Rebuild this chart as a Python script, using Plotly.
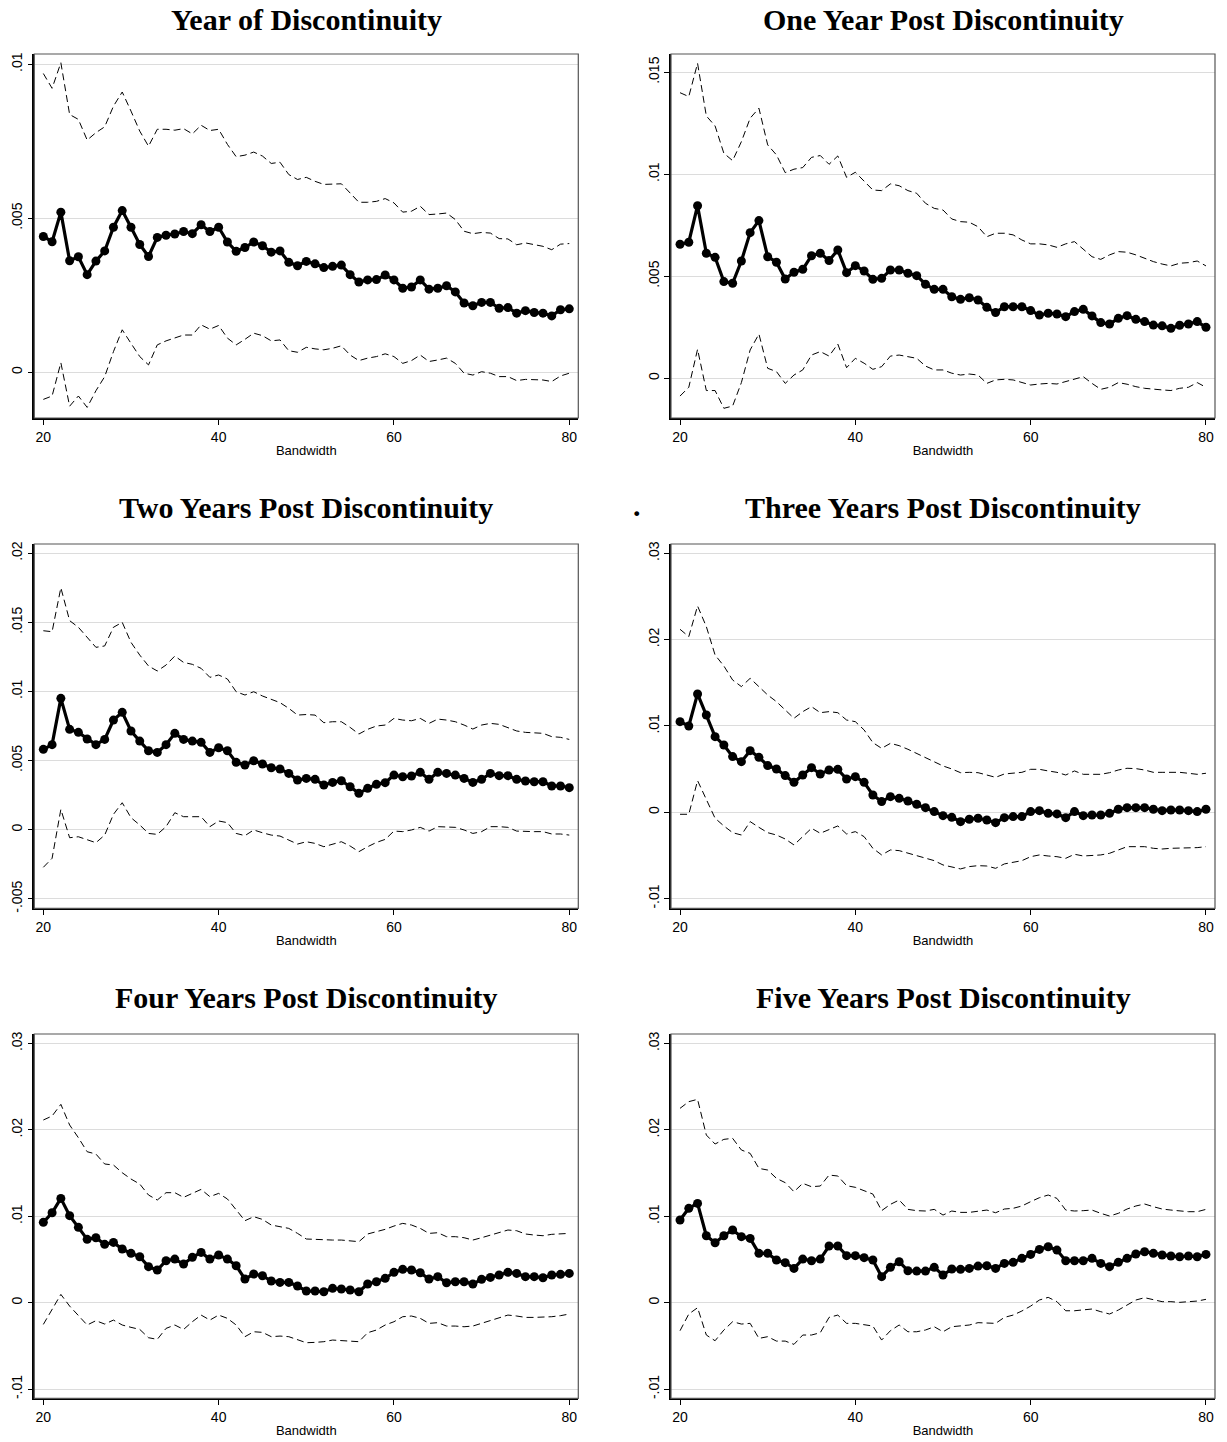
import plotly.graph_objects as go

bandwidth = list(range(20, 81))

titles = ["Year of Discontinuity", "One Year Post Discontinuity",
          "Two Years Post Discontinuity", "Three Years Post Discontinuity",
          "Four Years Post Discontinuity", "Five Years Post Discontinuity"]

# ---- Year of Discontinuity
est_0 = [0.00441,0.00424,0.00520,0.00362,0.00375,0.00317,0.00361,0.00394,0.00471,0.00525,
         0.00471,0.00415,0.00376,0.00438,0.00445,0.00449,0.00457,0.00450,0.00479,0.00457,
         0.00471,0.00423,0.00393,0.00405,0.00423,0.00411,0.00390,0.00394,0.00357,0.00346,
         0.00360,0.00352,0.00340,0.00344,0.00348,0.00317,0.00293,0.00300,0.00301,0.00316,
         0.00300,0.00273,0.00277,0.00300,0.00270,0.00273,0.00281,0.00261,0.00225,0.00216,
         0.00227,0.00227,0.00208,0.00210,0.00192,0.00200,0.00194,0.00192,0.00183,0.00203,
         0.00206]
hi_0 = [0.00970,0.00922,0.01005,0.00837,0.00821,0.00754,0.00778,0.00797,0.00864,0.00910,
        0.00848,0.00783,0.00734,0.00789,0.00789,0.00786,0.00791,0.00774,0.00802,0.00785,
        0.00789,0.00740,0.00700,0.00705,0.00715,0.00702,0.00678,0.00682,0.00642,0.00626,
        0.00633,0.00620,0.00610,0.00610,0.00612,0.00582,0.00552,0.00552,0.00555,0.00564,
        0.00550,0.00520,0.00523,0.00539,0.00512,0.00514,0.00517,0.00496,0.00458,0.00450,
        0.00454,0.00452,0.00434,0.00433,0.00414,0.00420,0.00414,0.00409,0.00398,0.00416,
        0.00418]
lo_0 = [-0.00088,-0.00077,0.00031,-0.00110,-0.00077,-0.00114,-0.00060,-0.00014,0.00067,0.00138,
        0.00094,0.00051,0.00024,0.00089,0.00102,0.00111,0.00121,0.00121,0.00154,0.00140,
        0.00152,0.00111,0.00089,0.00107,0.00127,0.00119,0.00102,0.00105,0.00070,0.00065,
        0.00081,0.00076,0.00073,0.00078,0.00086,0.00056,0.00038,0.00046,0.00051,0.00060,
        0.00051,0.00029,0.00038,0.00056,0.00035,0.00040,0.00046,0.00029,-0.00003,-0.00009,
        0.00002,-0.00003,-0.00014,-0.00014,-0.00027,-0.00023,-0.00025,-0.00025,-0.00030,-0.00012,
        -0.00003]

# ---- One Year Post
est_1 = [0.00657,0.00667,0.00846,0.00613,0.00593,0.00474,0.00466,0.00575,0.00714,0.00773,
         0.00596,0.00569,0.00487,0.00520,0.00534,0.00601,0.00613,0.00577,0.00629,0.00518,
         0.00552,0.00526,0.00485,0.00490,0.00531,0.00531,0.00515,0.00503,0.00461,0.00436,
         0.00436,0.00400,0.00387,0.00395,0.00384,0.00348,0.00322,0.00351,0.00351,0.00351,
         0.00332,0.00310,0.00319,0.00315,0.00302,0.00327,0.00338,0.00306,0.00273,0.00266,
         0.00294,0.00307,0.00289,0.00278,0.00261,0.00257,0.00245,0.00260,0.00266,0.00278,
         0.00250]
hi_1 = [0.01400,0.01381,0.01544,0.01286,0.01237,0.01103,0.01067,0.01160,0.01275,0.01324,
        0.01144,0.01095,0.01008,0.01025,0.01033,0.01083,0.01092,0.01049,0.01090,0.00985,
        0.01010,0.00964,0.00923,0.00920,0.00953,0.00944,0.00920,0.00907,0.00858,0.00833,
        0.00825,0.00781,0.00768,0.00765,0.00743,0.00694,0.00711,0.00711,0.00703,0.00678,
        0.00659,0.00659,0.00654,0.00642,0.00659,0.00670,0.00632,0.00596,0.00583,0.00605,
        0.00621,0.00618,0.00605,0.00587,0.00572,0.00560,0.00551,0.00564,0.00567,0.00575,
        0.00551]
lo_1 = [-0.00087,-0.00044,0.00142,-0.00060,-0.00060,-0.00147,-0.00136,-0.00021,0.00139,0.00217,
        0.00049,0.00033,-0.00025,0.00016,0.00041,0.00114,0.00131,0.00109,0.00168,0.00052,
        0.00098,0.00074,0.00044,0.00057,0.00109,0.00114,0.00106,0.00098,0.00060,0.00041,
        0.00041,0.00025,0.00016,0.00021,0.00016,-0.00025,-0.00008,-0.00005,-0.00008,-0.00021,
        -0.00033,-0.00028,-0.00025,-0.00028,-0.00016,-0.00005,0.00008,-0.00025,-0.00054,-0.00044,
        -0.00021,-0.00029,-0.00041,-0.00049,-0.00054,-0.00057,-0.00060,-0.00049,-0.00044,-0.00021,
        -0.00044]

# ---- Two Years Post
est_2 = [0.00581,0.00615,0.00950,0.00726,0.00704,0.00656,0.00615,0.00653,0.00793,0.00849,
         0.00714,0.00641,0.00571,0.00559,0.00615,0.00697,0.00653,0.00641,0.00632,0.00559,
         0.00593,0.00571,0.00487,0.00468,0.00499,0.00475,0.00448,0.00439,0.00407,0.00359,
         0.00371,0.00364,0.00323,0.00342,0.00354,0.00311,0.00263,0.00299,0.00328,0.00340,
         0.00395,0.00383,0.00388,0.00415,0.00364,0.00415,0.00407,0.00395,0.00371,0.00342,
         0.00364,0.00407,0.00391,0.00391,0.00364,0.00352,0.00347,0.00347,0.00316,0.00316,
         0.00304]
hi_2 = [0.01439,0.01432,0.01750,0.01512,0.01464,0.01391,0.01319,0.01329,0.01464,0.01500,
        0.01355,0.01263,0.01184,0.01148,0.01191,0.01256,0.01210,0.01196,0.01167,0.01102,
        0.01119,0.01090,0.00998,0.00974,0.00998,0.00967,0.00943,0.00919,0.00878,0.00829,
        0.00833,0.00829,0.00774,0.00781,0.00781,0.00740,0.00692,0.00726,0.00750,0.00757,
        0.00805,0.00793,0.00788,0.00805,0.00769,0.00800,0.00793,0.00781,0.00757,0.00728,
        0.00757,0.00769,0.00762,0.00740,0.00714,0.00704,0.00702,0.00697,0.00673,0.00668,
        0.00653]
lo_2 = [-0.00272,-0.00207,0.00147,-0.00058,-0.00051,-0.00075,-0.00094,-0.00039,0.00111,0.00195,
        0.00087,0.00034,-0.00027,-0.00034,0.00022,0.00123,0.00094,0.00094,0.00094,0.00022,
        0.00063,0.00051,-0.00027,-0.00043,-0.00002,-0.00022,-0.00039,-0.00046,-0.00075,-0.00104,
        -0.00087,-0.00099,-0.00123,-0.00104,-0.00087,-0.00118,-0.00159,-0.00123,-0.00092,-0.00070,
        -0.00010,-0.00014,-0.00002,0.00017,-0.00010,0.00022,0.00022,0.00017,-0.00002,-0.00027,
        -0.00014,0.00022,0.00022,0.00017,-0.00010,-0.00014,-0.00014,-0.00014,-0.00031,-0.00031,
        -0.00039]

# ---- Three Years Post
est_3 = [0.01050,0.01000,0.01371,0.01127,0.00876,0.00780,0.00645,0.00587,0.00714,0.00637,
         0.00541,0.00502,0.00425,0.00347,0.00432,0.00517,0.00444,0.00490,0.00498,0.00386,
         0.00413,0.00347,0.00201,0.00124,0.00181,0.00162,0.00131,0.00093,0.00054,0.00008,
         -0.00039,-0.00058,-0.00108,-0.00081,-0.00069,-0.00089,-0.00120,-0.00062,-0.00050,-0.00050,
         0.00008,0.00019,-0.00012,-0.00019,-0.00062,0.00008,-0.00039,-0.00031,-0.00031,-0.00012,
         0.00035,0.00054,0.00054,0.00054,0.00035,0.00019,0.00027,0.00027,0.00019,0.00008,
         0.00035]
hi_3 = [0.02120,0.02035,0.02390,0.02151,0.01822,0.01695,0.01533,0.01456,0.01552,0.01456,
        0.01359,0.01282,0.01185,0.01089,0.01166,0.01224,0.01154,0.01166,0.01154,0.01069,
        0.01050,0.00954,0.00807,0.00741,0.00799,0.00772,0.00730,0.00683,0.00637,0.00587,
        0.00537,0.00502,0.00459,0.00463,0.00459,0.00432,0.00405,0.00444,0.00452,0.00463,
        0.00498,0.00498,0.00479,0.00463,0.00432,0.00479,0.00440,0.00440,0.00440,0.00459,
        0.00490,0.00510,0.00506,0.00490,0.00463,0.00463,0.00463,0.00463,0.00452,0.00440,
        0.00452]
lo_3 = [-0.00023,-0.00023,0.00367,0.00143,-0.00069,-0.00158,-0.00236,-0.00263,-0.00108,-0.00174,
        -0.00236,-0.00263,-0.00309,-0.00378,-0.00282,-0.00185,-0.00243,-0.00197,-0.00158,-0.00251,
        -0.00224,-0.00282,-0.00417,-0.00494,-0.00436,-0.00444,-0.00475,-0.00502,-0.00533,-0.00560,
        -0.00610,-0.00629,-0.00656,-0.00629,-0.00618,-0.00622,-0.00649,-0.00598,-0.00579,-0.00560,
        -0.00514,-0.00494,-0.00506,-0.00514,-0.00533,-0.00486,-0.00506,-0.00502,-0.00494,-0.00475,
        -0.00436,-0.00398,-0.00398,-0.00398,-0.00417,-0.00425,-0.00417,-0.00417,-0.00417,-0.00409,
        -0.00398]

# ---- Four Years Post
est_4 = [0.00930,0.01041,0.01207,0.01007,0.00872,0.00733,0.00752,0.00675,0.00698,0.00621,
         0.00571,0.00532,0.00417,0.00378,0.00486,0.00505,0.00447,0.00525,0.00582,0.00505,
         0.00552,0.00505,0.00428,0.00274,0.00332,0.00312,0.00251,0.00235,0.00235,0.00193,
         0.00135,0.00135,0.00127,0.00166,0.00158,0.00147,0.00127,0.00216,0.00243,0.00282,
         0.00351,0.00386,0.00378,0.00347,0.00274,0.00301,0.00231,0.00243,0.00243,0.00216,
         0.00270,0.00293,0.00320,0.00351,0.00339,0.00301,0.00301,0.00289,0.00320,0.00328,
         0.00339]
hi_4 = [0.02114,0.02160,0.02295,0.02056,0.01909,0.01747,0.01720,0.01605,0.01593,0.01504,
        0.01431,0.01373,0.01246,0.01188,0.01273,0.01273,0.01219,0.01265,0.01311,0.01227,
        0.01265,0.01200,0.01072,0.00949,0.00995,0.00964,0.00899,0.00879,0.00860,0.00802,
        0.00737,0.00733,0.00725,0.00725,0.00725,0.00717,0.00706,0.00795,0.00822,0.00849,
        0.00887,0.00918,0.00899,0.00860,0.00802,0.00810,0.00764,0.00764,0.00752,0.00725,
        0.00752,0.00783,0.00810,0.00841,0.00833,0.00795,0.00783,0.00775,0.00791,0.00795,
        0.00802]
lo_4 = [-0.00251,-0.00085,0.00096,-0.00039,-0.00143,-0.00258,-0.00208,-0.00247,-0.00201,-0.00258,
        -0.00285,-0.00309,-0.00405,-0.00424,-0.00297,-0.00258,-0.00309,-0.00220,-0.00143,-0.00201,
        -0.00143,-0.00181,-0.00258,-0.00393,-0.00336,-0.00343,-0.00393,-0.00386,-0.00393,-0.00432,
        -0.00463,-0.00459,-0.00451,-0.00432,-0.00440,-0.00444,-0.00451,-0.00347,-0.00316,-0.00258,
        -0.00220,-0.00162,-0.00154,-0.00181,-0.00239,-0.00231,-0.00270,-0.00270,-0.00278,-0.00270,
        -0.00239,-0.00208,-0.00170,-0.00143,-0.00154,-0.00170,-0.00170,-0.00170,-0.00162,-0.00150,
        -0.00131]

# ---- Five Years Post
est_5 = [0.00957,0.01092,0.01149,0.00775,0.00694,0.00775,0.00841,0.00764,0.00744,0.00571,
         0.00571,0.00494,0.00463,0.00397,0.00505,0.00486,0.00505,0.00656,0.00656,0.00544,
         0.00544,0.00521,0.00494,0.00301,0.00409,0.00474,0.00370,0.00366,0.00366,0.00409,
         0.00320,0.00390,0.00386,0.00397,0.00424,0.00428,0.00397,0.00455,0.00467,0.00513,
         0.00559,0.00617,0.00648,0.00609,0.00486,0.00486,0.00486,0.00513,0.00455,0.00417,
         0.00467,0.00513,0.00563,0.00590,0.00571,0.00552,0.00540,0.00532,0.00540,0.00532,
         0.00559]
hi_5 = [0.02249,0.02326,0.02353,0.01940,0.01836,0.01890,0.01902,0.01767,0.01728,0.01554,
        0.01535,0.01439,0.01389,0.01284,0.01381,0.01342,0.01350,0.01477,0.01466,0.01354,
        0.01335,0.01296,0.01257,0.01065,0.01138,0.01188,0.01080,0.01065,0.01061,0.01080,
        0.01014,0.01061,0.01045,0.01045,0.01061,0.01072,0.01041,0.01084,0.01092,0.01119,
        0.01169,0.01215,0.01246,0.01207,0.01072,0.01061,0.01065,0.01072,0.01034,0.01003,
        0.01034,0.01084,0.01119,0.01142,0.01111,0.01084,0.01072,0.01061,0.01053,0.01053,
        0.01080]
lo_5 = [-0.00324,-0.00131,-0.00058,-0.00374,-0.00440,-0.00316,-0.00220,-0.00247,-0.00239,-0.00413,
        -0.00393,-0.00444,-0.00444,-0.00482,-0.00374,-0.00374,-0.00347,-0.00170,-0.00143,-0.00239,
        -0.00239,-0.00251,-0.00270,-0.00432,-0.00324,-0.00258,-0.00336,-0.00336,-0.00316,-0.00278,
        -0.00336,-0.00278,-0.00270,-0.00258,-0.00231,-0.00239,-0.00239,-0.00170,-0.00143,-0.00096,
        -0.00039,0.00031,0.00062,0.00012,-0.00093,-0.00093,-0.00085,-0.00073,-0.00104,-0.00131,
        -0.00085,-0.00027,0.00031,0.00058,0.00031,0.00012,0.00012,0.00004,0.00012,0.00019,
        0.00039]

ytick_vals = [
    [0, 0.005, 0.01],
    [0, 0.005, 0.01, 0.015],
    [-0.005, 0, 0.005, 0.01, 0.015, 0.02],
    [-0.01, 0, 0.01, 0.02, 0.03],
    [-0.01, 0, 0.01, 0.02, 0.03],
    [-0.01, 0, 0.01, 0.02, 0.03],
]
ytick_text = [
    ["0", ".005", ".01"],
    ["0", ".005", ".01", ".015"],
    ["-.005", "0", ".005", ".01", ".015", ".02"],
    ["-.01", "0", ".01", ".02", ".03"],
    ["-.01", "0", ".01", ".02", ".03"],
    ["-.01", "0", ".01", ".02", ".03"],
]
xtick_vals = [20, 40, 60, 80]
xtick_text = ["20", "40", "60", "80"]

ests = [est_0, est_1, est_2, est_3, est_4, est_5]
his = [hi_0, hi_1, hi_2, hi_3, hi_4, hi_5]
los = [lo_0, lo_1, lo_2, lo_3, lo_4, lo_5]

# ---- layout geometry (pixels)
W, H = 1227, 1442
col_px = [(34.3, 578.3), (671.0, 1215.0)]
row_px = [(54.0, 418.0), (544.0, 908.3), (1034.0, 1398.3)]
y_ranges = [(-0.001484, 0.010334), (-0.001946, 0.015897), (-0.005685, 0.020664),
            (-0.01112, 0.03108), (-0.01106, 0.03109), (-0.01106, 0.03109)]
x_range = (18.97, 81.03)
title_y_px = [20, 507, 997]

fig = go.Figure()
layout = dict(width=W, height=H, margin=dict(l=0, r=0, t=0, b=0),
              paper_bgcolor="white", plot_bgcolor="white", showlegend=False,
              font=dict(family="Liberation Sans, Arial, sans-serif", color="black"))
annotations = []
shapes = []

for i in range(6):
    r, c = divmod(i, 2)
    xa = "x" if i == 0 else f"x{i+1}"
    ya = "y" if i == 0 else f"y{i+1}"
    xkey = "xaxis" if i == 0 else f"xaxis{i+1}"
    ykey = "yaxis" if i == 0 else f"yaxis{i+1}"
    x0p, x1p = col_px[c]
    y0p, y1p = row_px[r]
    layout[xkey] = dict(domain=[x0p / W, x1p / W], anchor=ya, range=list(x_range),
                        tickmode="array", tickvals=xtick_vals, ticktext=xtick_text,
                        ticks="outside", ticklen=5, tickwidth=1, tickcolor="black",
                        showgrid=False, zeroline=False, showline=True, linecolor="black",
                        linewidth=1.5, tickfont=dict(size=14, color="black"),
                        title=dict(text="Bandwidth", font=dict(size=13), standoff=2),
                        automargin=False)
    layout[ykey] = dict(domain=[1 - y1p / H, 1 - y0p / H], anchor=xa, range=list(y_ranges[i]),
                        tickmode="array", tickvals=ytick_vals[i], ticktext=ytick_text[i],
                        ticks="outside", ticklen=5, tickwidth=1, tickcolor="black",
                        tickangle=-90, showgrid=True, gridcolor="#dcdcdc", gridwidth=1.2,
                        zeroline=False, showline=True, linecolor="black", linewidth=1.5,
                        tickfont=dict(size=14, color="black"), automargin=False)
    shapes.append(dict(type="rect", xref=f"{xa} domain", yref=f"{ya} domain",
                       x0=0, x1=1, y0=0, y1=1, line=dict(color="#555555", width=1.2),
                       layer="above"))

    fig.add_trace(go.Scatter(x=bandwidth, y=his[i], mode="lines", xaxis=xa, yaxis=ya,
                             line=dict(color="black", width=1, dash="7px,4px")))
    fig.add_trace(go.Scatter(x=bandwidth, y=los[i], mode="lines", xaxis=xa, yaxis=ya,
                             line=dict(color="black", width=1, dash="7px,4px")))
    fig.add_trace(go.Scatter(x=bandwidth, y=ests[i], mode="lines+markers", xaxis=xa, yaxis=ya,
                             line=dict(color="black", width=3.2),
                             marker=dict(color="black", size=9, symbol="circle")))

    annotations.append(dict(text=f"<b>{titles[i]}</b>", xref="paper", yref="paper",
                            x=(x0p + x1p) / 2 / W, y=1 - title_y_px[r] / H,
                            xanchor="center", yanchor="middle", showarrow=False,
                            font=dict(family="Liberation Serif, Times New Roman, serif",
                                      size=30, color="black")))

annotations.append(dict(text="<b>.</b>", xref="paper", yref="paper",
                        x=637 / W, y=1 - 505 / H, xanchor="center", yanchor="middle",
                        showarrow=False,
                        font=dict(family="Liberation Serif, Times New Roman, serif",
                                  size=30, color="black")))

layout["annotations"] = annotations
layout["shapes"] = shapes
fig.update_layout(**layout)
fig.write_html("out.html")
